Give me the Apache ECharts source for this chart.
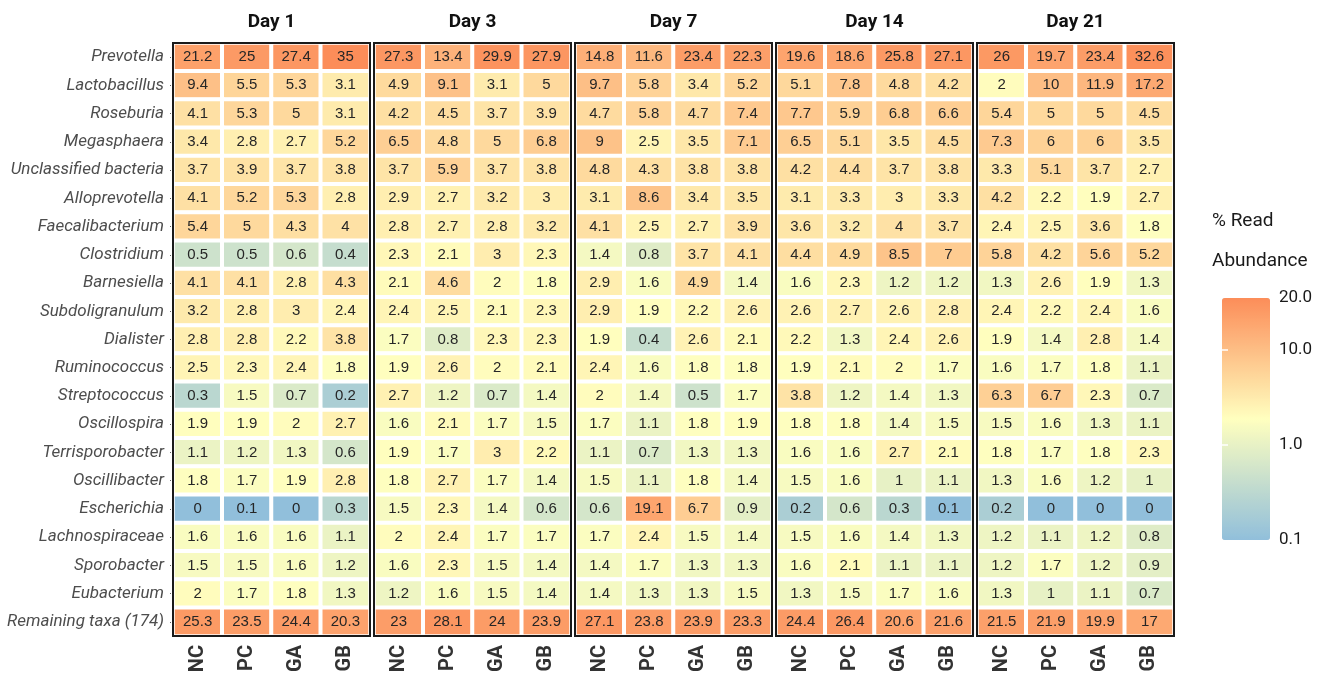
<!DOCTYPE html>
<html><head><meta charset="utf-8">
<script src="https://cdn.jsdelivr.net/npm/echarts@6/dist/echarts.min.js"></script>
<style>html,body{margin:0;padding:0;background:#fff}#c{width:1325px;height:679px}</style>
</head><body><div id="c"></div>
<script>
const GENERA = ['Prevotella','Lactobacillus','Roseburia','Megasphaera','Unclassified bacteria','Alloprevotella','Faecalibacterium','Clostridium','Barnesiella','Subdoligranulum','Dialister','Ruminococcus','Streptococcus','Oscillospira','Terrisporobacter','Oscillibacter','Escherichia','Lachnospiraceae','Sporobacter','Eubacterium','Remaining taxa (174)'];
const GROUPS = ['NC','PC','GA','GB'];
const DAYS = ['Day 1','Day 3','Day 7','Day 14','Day 21'];

const DAY1 = [[21.2,25,27.4,35],[9.4,5.5,5.3,3.1],[4.1,5.3,5,3.1],[3.4,2.8,2.7,5.2],[3.7,3.9,3.7,3.8],[4.1,5.2,5.3,2.8],[5.4,5,4.3,4],[0.5,0.5,0.6,0.4],[4.1,4.1,2.8,4.3],[3.2,2.8,3,2.4],[2.8,2.8,2.2,3.8],[2.5,2.3,2.4,1.8],[0.3,1.5,0.7,0.2],[1.9,1.9,2,2.7],[1.1,1.2,1.3,0.6],[1.8,1.7,1.9,2.8],[0,0.1,0,0.3],[1.6,1.6,1.6,1.1],[1.5,1.5,1.6,1.2],[2,1.7,1.8,1.3],[25.3,23.5,24.4,20.3]];
const DAY3 = [[27.3,13.4,29.9,27.9],[4.9,9.1,3.1,5],[4.2,4.5,3.7,3.9],[6.5,4.8,5,6.8],[3.7,5.9,3.7,3.8],[2.9,2.7,3.2,3],[2.8,2.7,2.8,3.2],[2.3,2.1,3,2.3],[2.1,4.6,2,1.8],[2.4,2.5,2.1,2.3],[1.7,0.8,2.3,2.3],[1.9,2.6,2,2.1],[2.7,1.2,0.7,1.4],[1.6,2.1,1.7,1.5],[1.9,1.7,3,2.2],[1.8,2.7,1.7,1.4],[1.5,2.3,1.4,0.6],[2,2.4,1.7,1.7],[1.6,2.3,1.5,1.4],[1.2,1.6,1.5,1.4],[23,28.1,24,23.9]];
const DAY7 = [[14.8,11.6,23.4,22.3],[9.7,5.8,3.4,5.2],[4.7,5.8,4.7,7.4],[9,2.5,3.5,7.1],[4.8,4.3,3.8,3.8],[3.1,8.6,3.4,3.5],[4.1,2.5,2.7,3.9],[1.4,0.8,3.7,4.1],[2.9,1.6,4.9,1.4],[2.9,1.9,2.2,2.6],[1.9,0.4,2.6,2.1],[2.4,1.6,1.8,1.8],[2,1.4,0.5,1.7],[1.7,1.1,1.8,1.9],[1.1,0.7,1.3,1.3],[1.5,1.1,1.8,1.4],[0.6,19.1,6.7,0.9],[1.7,2.4,1.5,1.4],[1.4,1.7,1.3,1.3],[1.4,1.3,1.3,1.5],[27.1,23.8,23.9,23.3]];
const DAY14 = [[19.6,18.6,25.8,27.1],[5.1,7.8,4.8,4.2],[7.7,5.9,6.8,6.6],[6.5,5.1,3.5,4.5],[4.2,4.4,3.7,3.8],[3.1,3.3,3,3.3],[3.6,3.2,4,3.7],[4.4,4.9,8.5,7],[1.6,2.3,1.2,1.2],[2.6,2.7,2.6,2.8],[2.2,1.3,2.4,2.6],[1.9,2.1,2,1.7],[3.8,1.2,1.4,1.3],[1.8,1.8,1.4,1.5],[1.6,1.6,2.7,2.1],[1.5,1.6,1,1.1],[0.2,0.6,0.3,0.1],[1.5,1.6,1.4,1.3],[1.6,2.1,1.1,1.1],[1.3,1.5,1.7,1.6],[24.4,26.4,20.6,21.6]];
const DAY21 = [[26,19.7,23.4,32.6],[2,10,11.9,17.2],[5.4,5,5,4.5],[7.3,6,6,3.5],[3.3,5.1,3.7,2.7],[4.2,2.2,1.9,2.7],[2.4,2.5,3.6,1.8],[5.8,4.2,5.6,5.2],[1.3,2.6,1.9,1.3],[2.4,2.2,2.4,1.6],[1.9,1.4,2.8,1.4],[1.6,1.7,1.8,1.1],[6.3,6.7,2.3,0.7],[1.5,1.6,1.3,1.1],[1.8,1.7,1.8,2.3],[1.3,1.6,1.2,1],[0.2,0,0,0],[1.2,1.1,1.2,0.8],[1.2,1.7,1.2,0.9],[1.3,1,1.1,0.7],[21.5,21.9,19.9,17]];
const DAY_VALUES = [DAY1, DAY3, DAY7, DAY14, DAY21];

const LEGEND_TITLE = '% Read\nAbundance';
const LEGEND_BREAKS = [0.1, 1, 10, 35];
const LEGEND_LABELS = ['0.1', '1.0', '10.0', '20.0'];
const COLOR_STOPS = ['#91bfdb', '#ffffbf', '#fc8d59'];

// layout (pixels)
const P_LEFT = 173, P_STEP = 201, P_W = 197, P_TOP = 43, P_H = 593;
const LG_LEFT = 1222, LG_TOP = 298, LG_W = 48, LG_H = 242;

const LOG_MIN = Math.log10(LEGEND_BREAKS[0]);
const LOG_MAX = Math.log10(LEGEND_BREAKS[LEGEND_BREAKS.length - 1]);
const toColorVal = v => Math.min(LOG_MAX, Math.max(LOG_MIN, Math.log10(Math.max(v, 0.1))));

const grids = [], xAxes = [], yAxes = [], series = [], graphics = [];
DAYS.forEach((day, i) => {
  const left = P_LEFT + i * P_STEP;
  grids.push({left: left, top: P_TOP, width: P_W, height: P_H, show: true, z: 10,
    borderColor: '#1a1a1a', borderWidth: 2, backgroundColor: 'rgba(0,0,0,0)'});
  xAxes.push({type: 'category', gridIndex: i, data: GROUPS, position: 'bottom',
    axisLine: {show: false}, axisTick: {show: false}, splitLine: {show: false},
    axisLabel: {rotate: 90, margin: 9, fontFamily: 'Roboto', fontWeight: 'bold', fontSize: 20, color: '#333'}});
  yAxes.push({type: 'category', gridIndex: i, data: GENERA, inverse: true,
    axisLine: {show: false}, splitLine: {show: false},
    axisTick: {show: i === 0, length: 3, alignWithLabel: true, lineStyle: {color: '#333'}},
    axisLabel: {show: i === 0, margin: 9, fontFamily: 'Roboto', fontStyle: 'italic', fontSize: 17, color: '#4d4d4d'}});
  const data = [];
  DAY_VALUES[i].forEach((row, r) => row.forEach((v, c) => data.push([c, r, toColorVal(v), v])));
  series.push({type: 'heatmap', xAxisIndex: i, yAxisIndex: i, data: data,
    itemStyle: {borderColor: '#fff', borderWidth: 4},
    label: {show: true, formatter: p => String(p.value[3]), fontFamily: 'Liberation Sans', fontSize: 15, color: '#262626'},
    emphasis: {disabled: true}});
  graphics.push({type: 'text', x: left + P_W / 2, y: 22,
    style: {text: day, align: 'center', verticalAlign: 'middle', fontFamily: 'Roboto', fontWeight: 'bold', fontSize: 19, fill: '#111'}});
});

// legend grid for colour-bar tick labels
grids.push({left: LG_LEFT, top: LG_TOP, width: LG_W, height: LG_H, show: false});
xAxes.push({type: 'value', gridIndex: 5, show: false, min: 0, max: 1});
const legVals = LEGEND_BREAKS.map(v => Math.log10(v));
const innerTicks = legVals.slice(1, legVals.length - 1);
yAxes.push({type: 'value', gridIndex: 5, position: 'right', min: LOG_MIN, max: LOG_MAX, z: 10,
  axisLine: {show: false}, splitLine: {show: false},
  axisTick: {show: true, inside: true, length: 6, customValues: innerTicks, lineStyle: {color: '#fff', width: 1.5}},
  axisLabel: {customValues: legVals, margin: 9, fontFamily: 'Roboto', fontSize: 17, color: '#1a1a1a',
    formatter: v => { let k = 0, d = Infinity; legVals.forEach((lv, j) => { if (Math.abs(lv - v) < d) { d = Math.abs(lv - v); k = j; } }); return LEGEND_LABELS[k]; }}});
yAxes.push({type: 'value', gridIndex: 5, position: 'left', min: LOG_MIN, max: LOG_MAX, z: 10,
  axisLine: {show: false}, splitLine: {show: false}, axisLabel: {show: false},
  axisTick: {show: true, inside: true, length: 6, customValues: innerTicks, lineStyle: {color: '#fff', width: 1.5}}});
graphics.push({type: 'text', x: 1212, y: 241,
  style: {text: LEGEND_TITLE, align: 'left', verticalAlign: 'middle', lineHeight: 40, fontFamily: 'Roboto', fontSize: 19, fill: '#1a1a1a'}});

const chart = echarts.init(document.getElementById('c'));
chart.setOption({
  animation: false,
  backgroundColor: '#fff',
  grid: grids, xAxis: xAxes, yAxis: yAxes, series: series,
  visualMap: {type: 'continuous', min: LOG_MIN, max: LOG_MAX, dimension: 2, seriesIndex: [0,1,2,3,4],
    inRange: {color: COLOR_STOPS}, show: true, calculable: false, hoverLink: false,
    itemWidth: LG_W, itemHeight: LG_H, left: LG_LEFT, top: LG_TOP, padding: 0, text: null},
  graphic: graphics
});
</script></body></html>
